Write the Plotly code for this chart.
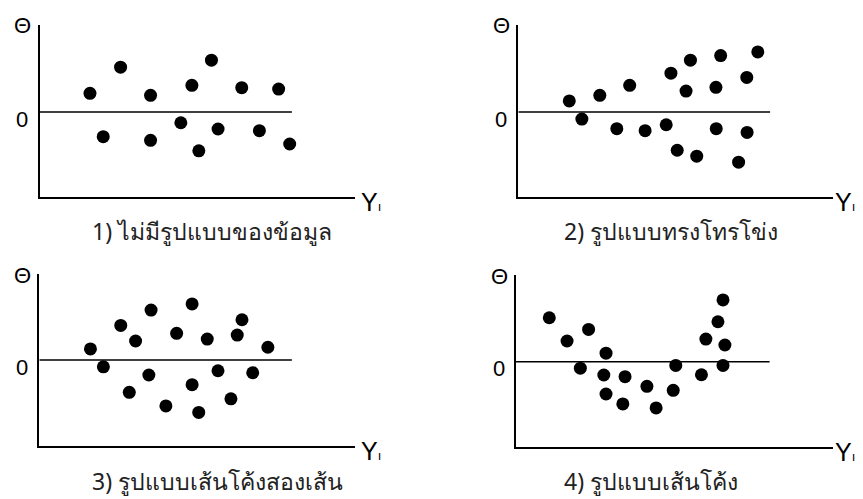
import plotly.graph_objects as go

# ---------------- data (fitted value Y_hat vs residual) ----------------
p1_x = [1.60, 2.57, 2.02, 3.52, 3.52, 4.48, 4.83, 5.05, 5.45, 5.66, 6.41, 6.97, 7.58, 7.93]
p1_y = [0.66, 1.58, -0.87, 0.59, -1.00, -0.38, 0.94, -1.37, 1.83, -0.60, 0.86, -0.66, 0.81, -1.13]

p2_x = [1.62, 2.02, 2.59, 3.13, 3.54, 4.03, 4.70, 4.85, 5.05, 5.33, 5.47, 5.67, 6.29, 6.28,
        6.43, 7.00, 7.26, 7.27, 7.61]
p2_y = [0.39, -0.25, 0.59, -0.59, 0.94, -0.66, -0.45, 1.37, -1.35, 0.74, 1.83, -1.56, -0.59,
        0.87, 1.99, -1.77, 1.22, -0.72, 2.12]

p3_x = [1.62, 2.03, 2.58, 2.85, 3.05, 3.47, 3.54, 4.01, 4.35, 4.84, 4.84, 5.05, 5.32, 5.66,
        6.07, 6.27, 6.42, 6.76, 7.24]
p3_y = [0.39, -0.24, 1.22, -1.14, 0.67, -0.53, 1.76, -1.62, 0.94, -0.87, 1.98, -1.85, 0.74,
        -0.38, -1.37, 0.88, 1.42, -0.45, 0.45]

p4_x = [1.05, 1.61, 2.03, 2.29, 2.77, 2.84, 2.84, 3.37, 3.44, 4.13, 4.42, 4.96, 5.04, 5.85,
        5.99, 6.37, 6.53, 6.59, 6.53]
p4_y = [1.55, 0.73, -0.23, 1.14, -0.47, 0.30, -1.14, -1.49, -0.53, -0.87, -1.63, -1.01, -0.13,
        -0.46, 0.80, 1.41, 2.18, 0.59, -0.13]

captions = ["1) ไม่มีรูปแบบของข้อมูล", "2) รูปแบบทรงโทรโข่ง",
            "3) รูปแบบเส้นโค้งสองเส้น", "4) รูปแบบเส้นโค้ง"]
y_label = "Θ"
zero_label = "0"
x_label = "Y<span style='font-size:13px'>ı</span>"

panels = [(p1_x, p1_y), (p2_x, p2_y), (p3_x, p3_y), (p4_x, p4_y)]

# ---------------- layout geometry (page pixels; page body has 8px margin) ----------------
OFF = 8
W, H = 863 - OFF, 499 - OFF
# left, right, top, zero, bottom  (page pixel positions)
geo = [
    (39.5, 355.0, 25.0, 112.0, 197.0),
    (518.3, 833.0, 25.0, 112.0, 197.0),
    (39.3, 355.0, 274.0, 360.0, 445.5),
    (516.0, 833.0, 275.0, 361.7, 446.7),
]
cap_pos = [(90, 231), (561.7, 231), (90, 481), (561.7, 481)]
ylab_shift = [5, 1, 5, 1]
S_Y = 28.34

fig = go.Figure()
layout = dict(
    width=W, height=H, margin=dict(l=0, r=0, t=0, b=0),
    paper_bgcolor="white", plot_bgcolor="white", showlegend=False,
    font=dict(family="Liberation Sans, Arial, sans-serif", color="black"),
)
annotations = []
shapes = []
label_font = dict(family="Liberation Sans, Arial, sans-serif", size=22, color="black")

for i, ((xs, ys), g) in enumerate(zip(panels, geo)):
    l, r, t, z, b = [v - OFF for v in g]
    n = "" if i == 0 else str(i + 1)
    xa, ya = "x" + n, "y" + n
    fig.add_trace(go.Scatter(
        x=xs, y=ys, mode="markers", xaxis=xa, yaxis=ya,
        marker=dict(size=13, color="black", line=dict(width=0)),
        hoverinfo="skip"))
    yr = [-(b - z) / S_Y, (z - t) / S_Y]
    layout["xaxis" + n] = dict(
        domain=[l / W, r / W], range=[0, 10], anchor=ya,
        showline=True, linecolor="black", linewidth=2, showgrid=False,
        zeroline=False, showticklabels=False, ticks="", fixedrange=True)
    layout["yaxis" + n] = dict(
        domain=[1 - b / H, 1 - t / H], range=yr, anchor=xa,
        showline=True, linecolor="black", linewidth=2, showgrid=False,
        zeroline=False, showticklabels=False, ticks="", fixedrange=True)
    # residual zero line
    shapes.append(dict(type="line", xref=xa, yref=ya, x0=0, x1=8.0, y0=0, y1=0,
                       line=dict(color="black", width=1.5)))
    annotations.append(dict(text=y_label, xref=xa + " domain", yref=ya + " domain",
                            x=0, y=1, xshift=-17, yshift=-1, showarrow=False,
                            xanchor="center", yanchor="middle", font=label_font))
    annotations.append(dict(text=zero_label, xref=xa + " domain", yref=ya,
                            x=0, y=0, xshift=-17, yshift=-7, showarrow=False,
                            xanchor="center", yanchor="middle", font=label_font))
    annotations.append(dict(text=x_label, xref=xa + " domain", yref=ya + " domain",
                            x=1, y=0, xshift=ylab_shift[i], yshift=-5, showarrow=False,
                            xanchor="left", yanchor="middle", borderpad=0,
                            font=dict(family="Liberation Sans, Arial, sans-serif",
                                      size=25, color="black")))
    cx, cy = cap_pos[i]
    annotations.append(dict(text=captions[i], xref="paper", yref="paper",
                            x=(cx - OFF) / W, y=1 - (cy - OFF) / H, showarrow=False,
                            xanchor="left", yanchor="middle",
                            font=dict(family="Noto Sans, sans-serif", size=23,
                                      color="#222222")))

layout["annotations"] = annotations
layout["shapes"] = shapes
fig.update_layout(**layout)
fig.write_html("out.html")
